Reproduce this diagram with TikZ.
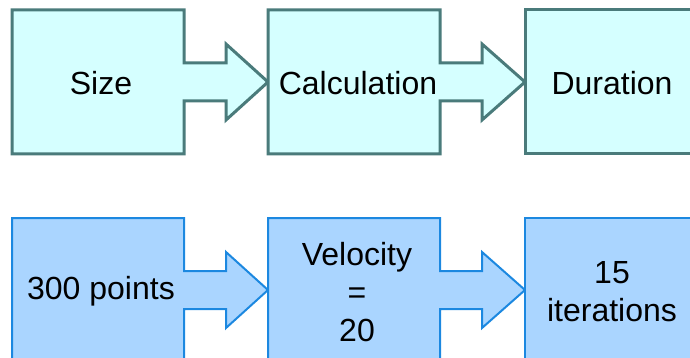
\documentclass[tikz,border=0pt]{standalone}
\usepackage{fontspec}
\setmainfont{Liberation Sans}
\definecolor{topfill}{HTML}{D5FFFF}
\definecolor{topdraw}{HTML}{4A7B7B}
\definecolor{botfill}{HTML}{AAD5FF}
\definecolor{botdraw}{HTML}{1C88E0}
\begin{document}
\begin{tikzpicture}[x=1pt,y=-1pt,
  topshape/.style={fill=topfill,draw=topdraw,line width=3pt,line join=miter},
  botshape/.style={fill=botfill,draw=botdraw,line width=2pt,line join=miter},
  lbl/.style={inner sep=0pt,align=center,font=\fontsize{32}{38}\selectfont,text=black}]
\useasboundingbox (0,0) rectangle (690,358);
\clip (0,0) rectangle (690,358);
% top row
\draw[topshape] (12,10) -- (184,10) -- (184,63) -- (226,63) -- (226,44) -- (268,82) -- (226,120) -- (226,101) -- (184,101) -- (184,154) -- (12,154) -- cycle;
\draw[topshape] (268,10) -- (440,10) -- (440,63) -- (482,63) -- (482,44) -- (525,82) -- (482,120) -- (482,101) -- (440,101) -- (440,154) -- (268,154) -- cycle;
\draw[topshape] (525,10) rectangle (700,154);
% bottom row
\draw[botshape] (12,218) -- (184,218) -- (184,271) -- (226,271) -- (226,252) -- (268,290) -- (226,328) -- (226,309) -- (184,309) -- (184,362) -- (12,362) -- cycle;
\draw[botshape] (268,218) -- (440,218) -- (440,271) -- (482,271) -- (482,252) -- (525,290) -- (482,328) -- (482,309) -- (440,309) -- (440,362) -- (268,362) -- cycle;
\draw[botshape] (525,218) rectangle (700,362);
% labels
\node[lbl] (size) at (101,83) {Size};
\node[lbl] (calc) at (358,83) {Calculation};
\node[lbl] (dur) at (612,83) {Duration};
\node[lbl] (pts) at (101,291) {300 points};
\node[lbl] (vel) at (357,292) {Velocity\\=\\20};
\node[lbl] (iter) at (612,292) {15\\iterations};
\end{tikzpicture}
\end{document}
